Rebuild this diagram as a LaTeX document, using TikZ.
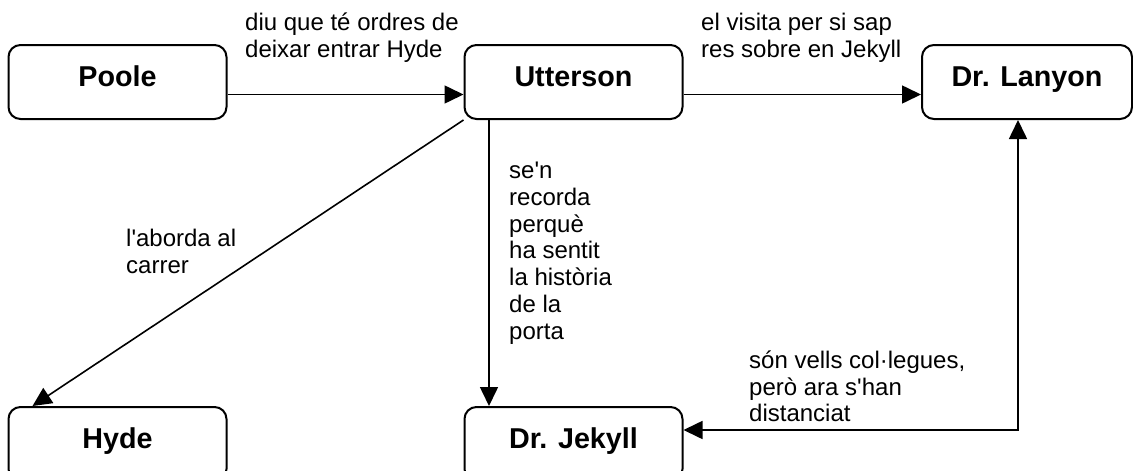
\documentclass[tikz,border=0pt]{standalone}
\usepackage{fontspec}
\setmainfont{Liberation Sans}
\usetikzlibrary{arrows.meta}
\begin{document}
\begin{tikzpicture}[x=1pt,y=-1pt,
  box/.style={draw, line width=2pt, rounded corners=12pt, inner sep=0pt,
    minimum width=218pt, minimum height=74pt, text height=21pt, text depth=12pt,
    font=\fontsize{28.7}{32}\selectfont\bfseries},
  lbl/.style={anchor=base west, inner sep=0pt, align=left,
    font=\fontsize{24}{26.7}\selectfont},
  tip/.style={Triangle[length=19pt,width=18pt]},
  conn/.style={line width=1.6pt, -{Triangle[length=19pt,width=18pt]}},
  conn2/.style={line width=1.6pt, {Triangle[length=19pt,width=18pt]}-{Triangle[length=19pt,width=18pt]}}]
\useasboundingbox (0,0) rectangle (1133,471);
\node[box] (poole) at (117.5,82) {Poole};
\node[box] (utt) at (573.5,82) {Utterson};
\node[box, minimum width=210pt] (lan) at (1027,82) {Dr. Lanyon};
\node[box] (hyde) at (117.5,444) {Hyde};
\node[box] (jek) at (573.5,444) {Dr. Jekyll};

\draw[conn] ([yshift=-12.5pt]poole.east) -- ([yshift=-12.5pt]utt.west);
\draw[conn] ([yshift=-12.5pt]utt.east) -- ([yshift=-12.5pt]lan.west);
\draw[conn] (utt.south west) -- ([xshift=25pt]hyde.north west);
\draw[conn] ([xshift=-84.5pt]utt.south) -- ([xshift=-84.5pt]jek.north);
\draw[conn2] ([xshift=-9pt]lan.south) |- ([yshift=14pt]jek.east);

\node[lbl] (l1) at (245,57.3) {diu que té ordres de\\deixar entrar Hyde};
\node[lbl] (l2) at (701,57.3) {el visita per si sap\\res sobre en Jekyll};
\node[lbl] (l3) at (509,339) {se\textquotesingle n\\recorda\\perquè\\ha sentit\\la història\\de la\\porta};
\node[lbl] (l4) at (126,273) {l\textquotesingle aborda al\\carrer};
\node[lbl] (l5) at (749,421.7) {són vells col·legues,\\però ara s\textquotesingle han\\distanciat};
\end{tikzpicture}
\end{document}
